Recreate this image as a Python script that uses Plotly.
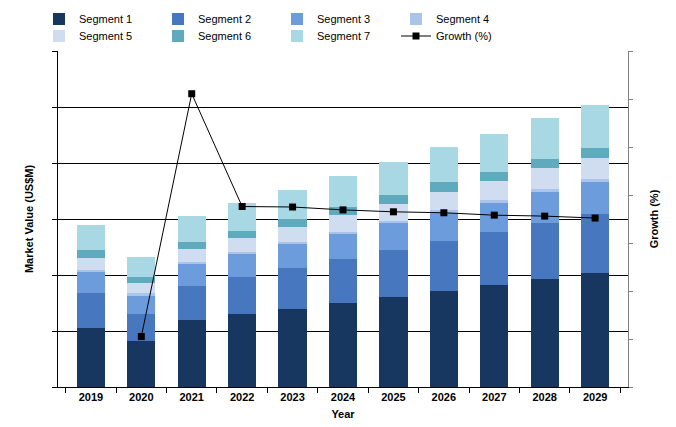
import plotly.graph_objects as go

years = ["2019", "2020", "2021", "2022", "2023", "2024", "2025", "2026", "2027", "2028", "2029"]
seg1 = [105.4, 82.1, 119.6, 130.4, 139.3, 150.0, 160.7, 171.4, 182.1, 192.9, 203.6]
seg2 = [62.5, 48.2, 60.7, 66.1, 73.2, 78.6, 83.9, 89.3, 94.6, 100.0, 105.4]
seg3 = [37.5, 33.9, 39.3, 41.1, 42.9, 44.6, 48.2, 50.0, 51.8, 55.4, 57.1]
seg4 = [3.6, 3.2, 3.7, 3.8, 4.0, 4.1, 4.3, 4.5, 4.8, 5.0, 5.2]
seg5 = [22.0, 17.9, 23.2, 25.0, 26.8, 30.4, 30.4, 33.9, 33.9, 37.5, 37.5]
seg6 = [13.8, 11.3, 12.5, 12.5, 14.3, 14.3, 16.1, 16.1, 16.1, 16.1, 17.9]
seg7 = [44.6, 35.2, 46.4, 50.0, 51.8, 55.4, 58.9, 62.5, 67.9, 73.2, 76.8]
growth = [None, -19.5, 31.1, 7.6, 7.5, 6.9, 6.5, 6.3, 5.8, 5.6, 5.2]

segments = [
    ("Segment 1", seg1, "#183760", "legend"),
    ("Segment 2", seg2, "#4677bf", "legend"),
    ("Segment 3", seg3, "#6d9cdc", "legend"),
    ("Segment 4", seg4, "#a9c3ea", "legend"),
    ("Segment 5", seg5, "#d0dcf0", "legend2"),
    ("Segment 6", seg6, "#5fabbd", "legend2"),
    ("Segment 7", seg7, "#a8d8e3", "legend2"),
]

FONT = "Liberation Sans, Arial, sans-serif"

fig = go.Figure()
for name, vals, col, lg in segments:
    fig.add_trace(go.Bar(x=years, y=vals, name=name, marker=dict(color=col, line=dict(width=0)),
                         yaxis="y", legend=lg))

fig.add_trace(go.Scatter(x=years, y=growth, name="Growth (%)", mode="lines+markers",
                         line=dict(color="black", width=1),
                         marker=dict(symbol="square", size=7, color="black"),
                         yaxis="y2", connectgaps=False, legend="legend2"))

leg_common = dict(orientation="h", xref="container", yref="container",
                  x=39 / 676, xanchor="left", yanchor="middle",
                  entrywidth=74, entrywidthmode="pixels", traceorder="normal",
                  font=dict(family=FONT, size=11, color="black"), itemwidth=30,
                  bgcolor="rgba(0,0,0,0)", tracegroupgap=0)

fig.update_layout(
    width=676, height=427,
    margin=dict(l=58, r=48, t=51, b=40, autoexpand=False),
    paper_bgcolor="white", plot_bgcolor="white",
    barmode="stack", bargap=0.44,
    font=dict(family=FONT, size=11, color="black"),
    legend=dict(leg_common, y=1 - 19 / 427),
    legend2=dict(leg_common, y=1 - 36 / 427),
    xaxis=dict(type="category", showline=True, linecolor="black", linewidth=1,
               ticks="outside", tickson="boundaries", ticklen=5, tickcolor="black",
               tickfont=dict(family=FONT, size=11, color="black", weight="bold"),
               title=dict(text="<b>Year</b>", font=dict(size=11), standoff=8),
               showgrid=False, zeroline=False, automargin=False),
    yaxis=dict(range=[0, 600], dtick=100, showticklabels=False, showline=True,
               linecolor="black", linewidth=1, ticks="outside", ticklen=5, tickcolor="black",
               showgrid=True, gridcolor="black", gridwidth=1, zeroline=False, automargin=False,
               title=dict(text="<b>Market Value (US$M)</b>", font=dict(size=11), standoff=16)),
    yaxis2=dict(range=[-30, 40], dtick=10, overlaying="y", side="right", showticklabels=False,
                showline=True, linecolor="#808080", linewidth=1, ticks="outside", ticklen=4,
                tickcolor="#808080", showgrid=False, zeroline=False, automargin=False,
                title=dict(text="<b>Growth (%)</b>", font=dict(size=11), standoff=18)),
)

fig.write_html("out.html")
